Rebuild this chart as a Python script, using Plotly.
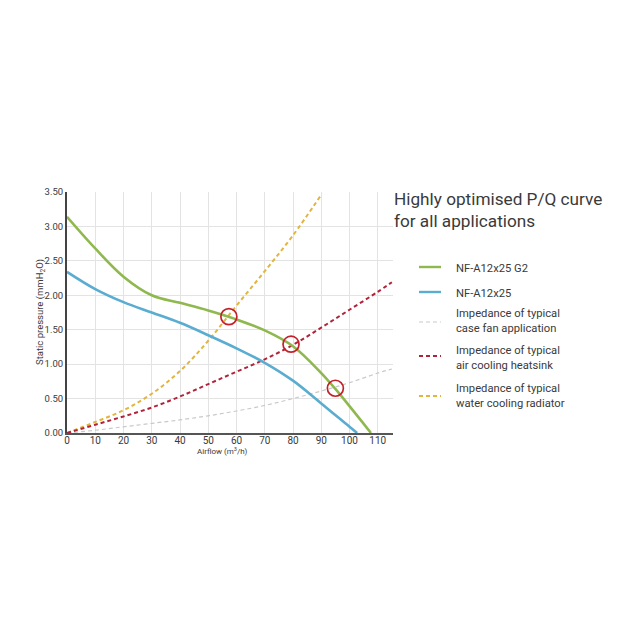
import plotly.graph_objects as go

# values
airflow = [0, 10, 20, 30, 40, 50, 60, 70, 80, 90, 95, 100, 107.6]
g2_pressure = [3.14, 2.68, 2.27, 2.00, 1.89, 1.78, 1.65, 1.49, 1.26, 0.87, 0.64, 0.39, 0.0]
a12_airflow = [0, 10, 20, 30, 40, 50, 60, 70, 80, 90, 100, 102.7]
a12_pressure = [2.34, 2.09, 1.90, 1.75, 1.60, 1.42, 1.23, 1.02, 0.76, 0.43, 0.09, 0.0]

imp_airflow = [0, 10, 20, 30, 40, 50, 60, 70, 80, 90, 100, 110, 115]
case_pressure = [0.0, 0.04, 0.09, 0.14, 0.19, 0.25, 0.32, 0.40, 0.50, 0.61, 0.73, 0.87, 0.93]
heatsink_pressure = [0.0, 0.12, 0.24, 0.37, 0.53, 0.71, 0.89, 1.07, 1.28, 1.53, 1.79, 2.05, 2.19]
rad_airflow = [0, 10, 20, 30, 40, 50, 60, 70, 80, 90]
rad_pressure = [0.0, 0.16, 0.33, 0.57, 0.90, 1.34, 1.85, 2.35, 2.87, 3.46]

cross_x = [57.3, 79.3, 95]
cross_y = [1.69, 1.29, 0.65]

x_ticks = [0, 10, 20, 30, 40, 50, 60, 70, 80, 90, 100, 110]
y_ticks = [0, 0.5, 1, 1.5, 2, 2.5, 3, 3.5]

GREEN = "#8fb84e"
BLUE = "#5aadd0"
GREY = "#c9c9c9"
RED = "#b0243a"
YELLOW = "#e2b53e"
TEXT = "#3a3a3a"
FONT = "Roboto"
NARROW = "Liberation Sans Narrow, Roboto"

fig = go.Figure()

dash = "4px,3px"
fig.add_trace(go.Scatter(x=imp_airflow, y=case_pressure, mode="lines", line=dict(color=GREY, width=1.2, dash=dash, shape="spline")))
fig.add_trace(go.Scatter(x=rad_airflow, y=rad_pressure, mode="lines", line=dict(color=YELLOW, width=2, dash=dash, shape="spline")))
fig.add_trace(go.Scatter(x=imp_airflow, y=heatsink_pressure, mode="lines", line=dict(color=RED, width=2, dash=dash, shape="spline")))
fig.add_trace(go.Scatter(x=a12_airflow, y=a12_pressure, mode="lines", line=dict(color=BLUE, width=2.6, shape="spline")))
fig.add_trace(go.Scatter(x=airflow, y=g2_pressure, mode="lines", line=dict(color=GREEN, width=2.6, shape="spline")))
fig.add_trace(go.Scatter(x=cross_x, y=cross_y, mode="markers",
                         marker=dict(symbol="circle-open", size=16, color="#c5202a", line=dict(width=1.7, color="#c5202a"))))

# the page body adds 8 px on the top and left, so the figure is 632 px and the margins are 8 px less
fig.update_layout(
    width=632, height=632, autosize=False,
    margin=dict(l=59, r=247, t=184, b=207),
    paper_bgcolor="white", plot_bgcolor="white",
    showlegend=False,
    font=dict(family=FONT, color=TEXT),
)
fig.update_xaxes(
    range=[0, 115.4], tickmode="array", tickvals=x_ticks, ticktext=[str(v) for v in x_ticks],
    tickfont=dict(size=10, family=NARROW), ticks="", ticklen=0, ticklabelstandoff=-3,
    showgrid=True, gridcolor="#e3e3e3", gridwidth=1, zeroline=False,
    showline=True, linecolor="#555555", linewidth=1.5,
)
fig.update_yaxes(
    range=[0, 3.5], tickmode="array", tickvals=y_ticks, ticktext=["%.2f" % v for v in y_ticks],
    tickfont=dict(size=9.5, family=NARROW), ticks="", ticklen=0,
    showgrid=True, gridcolor="#e3e3e3", gridwidth=1, zeroline=False,
    showline=True, linecolor="#444444", linewidth=2,
)

# plot area runs 326 px wide and 241 px tall, everything outside it is placed in that fraction
def px(x):
    return (x - 67) / 326

def py(y):
    return (433 - y) / 241

def note(text, x, y, size, anchor="left", angle=0):
    fig.add_annotation(text=text, xref="paper", yref="paper", x=px(x), y=py(y), xanchor=anchor, yanchor="middle",
                       align="left", showarrow=False, textangle=angle, font=dict(size=size, color=TEXT, family=FONT))

note("Airflow (m<sup>3</sup>/h)", 222, 451, 8, anchor="center")
note("Static pressure (mmH<sub>2</sub>O)", 40, 312, 9.5, anchor="center", angle=-90)
note("Highly optimised P/Q curve", 391.5, 199, 17.2)
note("for all applications", 391.5, 221, 17.2)

legend_rows = [
    (267, GREEN, "solid", 2.4, "NF-A12x25 G2", 268),
    (292, BLUE, "solid", 2.4, "NF-A12x25", 293),
    (322, GREY, dash, 1.2, "Impedance of typical<br>case fan application", 321),
    (356, RED, dash, 2, "Impedance of typical<br>air cooling heatsink", 358),
    (396, YELLOW, dash, 2, "Impedance of typical<br>water cooling radiator", 396),
]
for key_y, color, key_dash, key_w, label, text_y in legend_rows:
    fig.add_shape(type="line", xref="paper", yref="paper", x0=px(419), x1=px(441), y0=py(key_y), y1=py(key_y),
                  line=dict(color=color, width=key_w, dash=key_dash))
    note(label, 454.5, text_y, 11.2)

fig.write_html("out.html")
